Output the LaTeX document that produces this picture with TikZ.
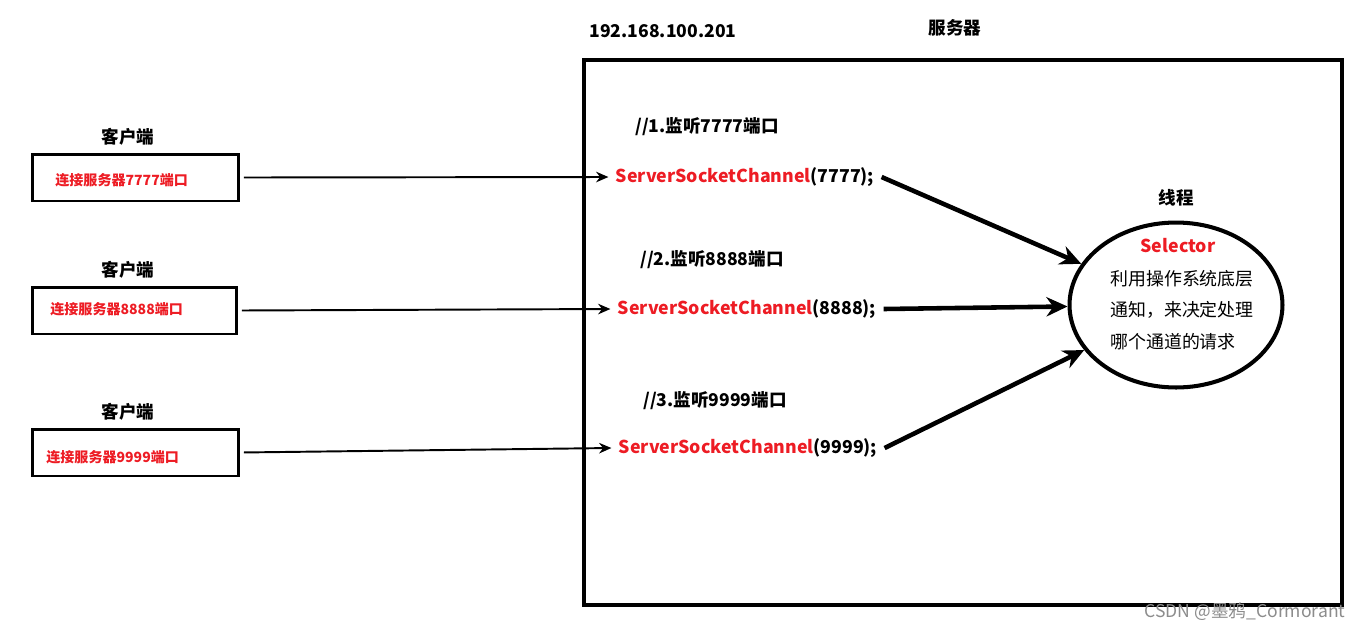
\documentclass[tikz,border=0pt]{standalone}
\usepackage{fontspec}
\setmainfont{Noto Sans CJK SC}
\usepackage{xcolor}
\usetikzlibrary{arrows.meta,positioning,shapes.geometric}
\definecolor{paintred}{RGB}{237,28,36}
\newcommand{\rtext}[1]{\textcolor{paintred}{#1}}

\begin{document}
\begin{tikzpicture}[
      x=0.02cm, y=-0.02cm,
      client/.style={draw=black, line width=1.7pt, minimum width=4.14cm, minimum height=0.94cm, inner sep=0pt},
      lbl/.style={font=\bfseries\fontsize{10}{12}\selectfont},
      hint/.style={font=\bfseries\fontsize{8}{9}\selectfont, text=paintred, anchor=west, inner sep=0pt},
      chan/.style={font=\bfseries\fontsize{10.1}{12}\selectfont, inner sep=4pt},
      thin/.style={-{Stealth[length=7pt,width=6pt]}, line width=1.1pt, shorten <=2pt},
      bigarr/.style={-{Stealth[length=12pt,width=11pt]}, line width=2.6pt},
    ]
      \useasboundingbox (0,0) rectangle (1367,630);

      % server side
      \node[draw, line width=2.3pt, minimum width=15.16cm, minimum height=10.9cm, inner sep=0pt] (srv) at (963,332.5) {};
      \node[lbl] (ip) at (663,31) {192.168.100.201};
      \node[lbl] (srvname) at (955,28) {服务器};

      % clients
      \node[client] (c1) at (135.5,177.5) {};
      \node[client, minimum width=4.1cm] (c2) at (134.5,310.5) {};
      \node[client] (c3) at (135.5,452.5) {};
      \node[lbl] (l1) at (128,137) {客户端};
      \node[lbl] (l2) at (128,270) {客户端};
      \node[lbl] (l3) at (128,412) {客户端};
      \node[hint] (t1) at (55,180) {连接服务器7777端口};
      \node[hint] (t2) at (50,309) {连接服务器8888端口};
      \node[hint] (t3) at (46,457) {连接服务器9999端口};

      % channels
      \node[lbl] (m1) at (707,127) {//1.监听7777端口};
      \node[lbl] (m2) at (712,260) {//2.监听8888端口};
      \node[lbl] (m3) at (715,401) {//3.监听9999端口};
      \node[chan] (ch1) at (745,177) {\rtext{ServerSocketChannel}(7777);};
      \node[chan] (ch2) at (747,309) {\rtext{ServerSocketChannel}(8888);};
      \node[chan] (ch3) at (748,448) {\rtext{ServerSocketChannel}(9999);};

      % selector thread
      \node[ellipse, draw, line width=2.3pt, minimum width=4.26cm, minimum height=3.3cm] (sel) at (1176,305) {};
      \node[lbl] (thr) at (1176,198) {线程};
      \node[chan] (selname) at (1178,246) {\rtext{Selector}};
      \node[anchor=west, align=left, inner sep=0pt, font=\fontsize{10.2}{18}\selectfont] (seltxt) at (1110,310) {利用操作系统底层\\通知，来决定处理\\哪个通道的请求};

      \node[text=black!45, font=\fontsize{10}{12}\selectfont] (mark) at (1245,612) {CSDN @墨鸦\_Cormorant};

      \draw[thin] (c1.east) -- (ch1.west);
      \draw[thin] (c2.east) -- (ch2.west);
      \draw[thin] (c3.east) -- (ch3.west);

      \draw[bigarr] (ch1.east) -- (sel);
      \draw[bigarr] (ch2.east) -- (sel);
      \draw[bigarr] (ch3.east) -- (sel);
    \end{tikzpicture}
\end{document}
